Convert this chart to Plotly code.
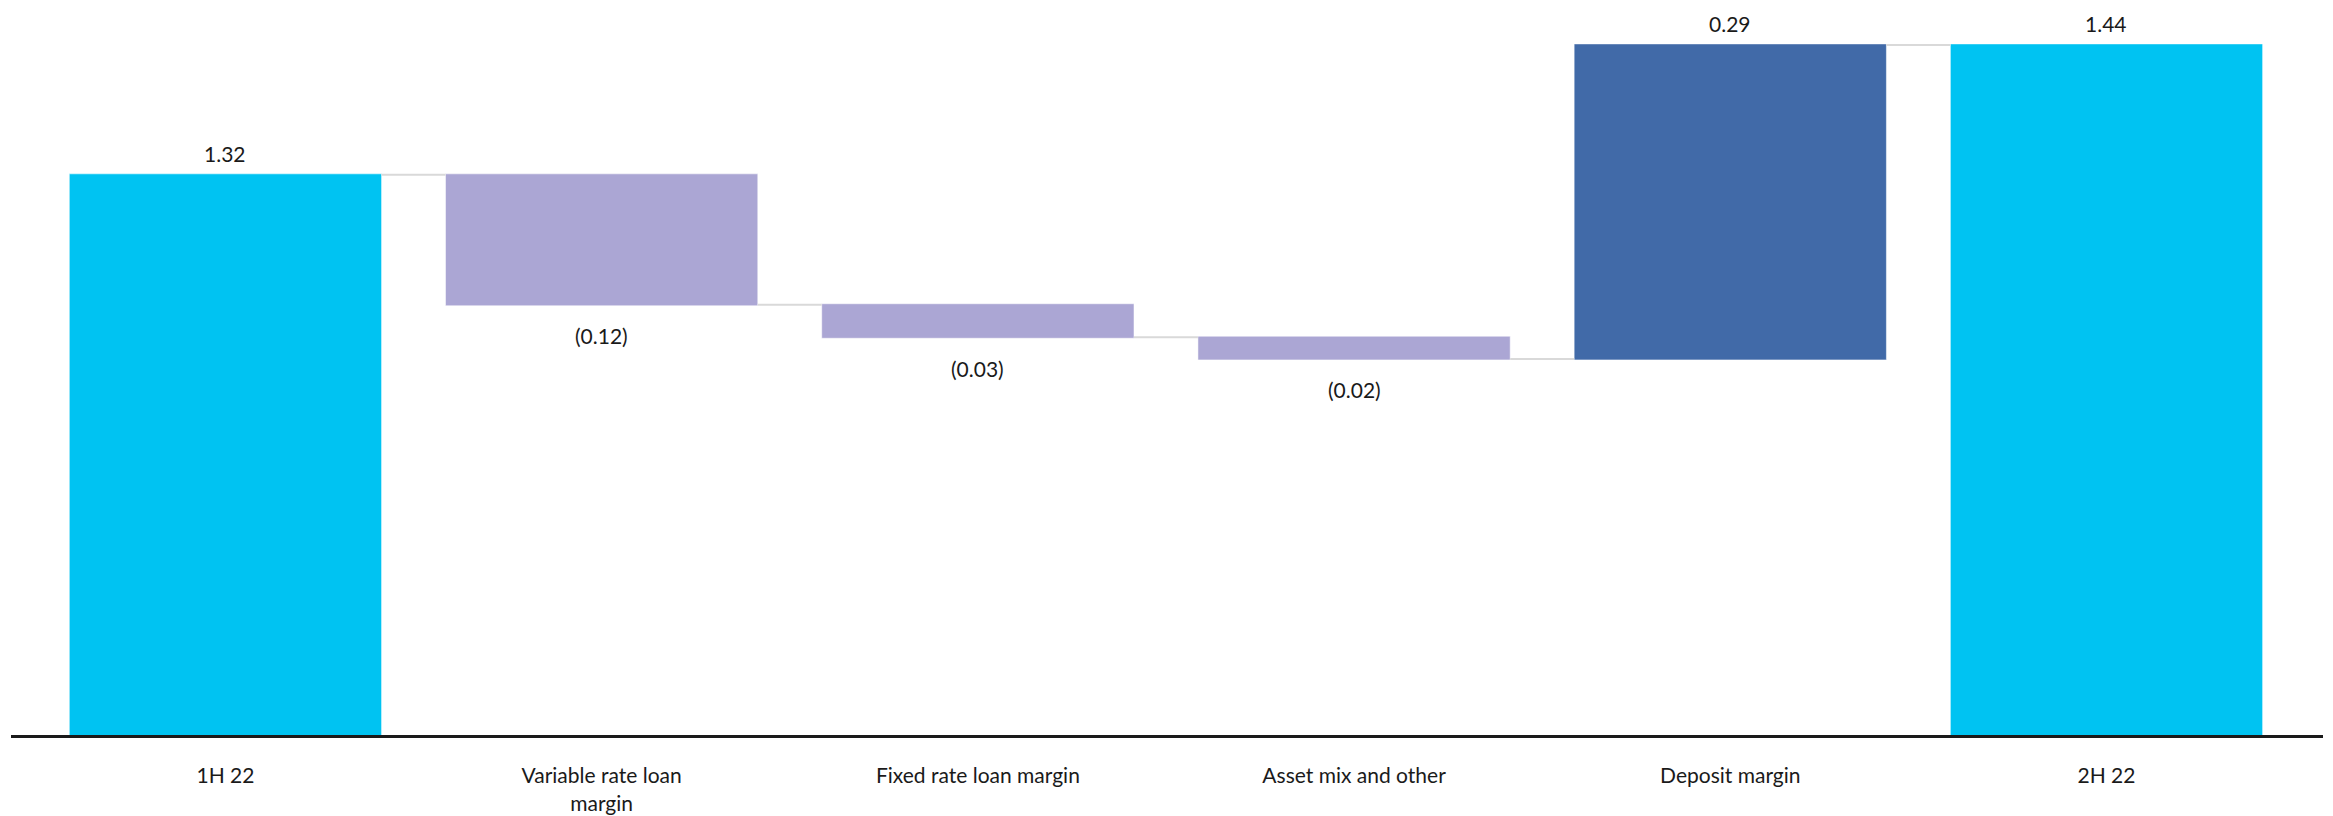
import plotly.graph_objects as go

categories = ["1H 22", "Variable rate loan<br>margin", "Fixed rate loan margin",
              "Asset mix and other", "Deposit margin", "2H 22"]
values = [1.32, -0.12, -0.03, -0.02, 0.29, 1.44]
measures = ["absolute", "relative", "relative", "relative", "relative", "total"]
labels = ["1.32", "(0.12)", "(0.03)", "(0.02)", "0.29", "1.44"]

FONT = "Lato"
TXT = "#1a1a1a"

fig = go.Figure()
fig.add_trace(go.Waterfall(
    x=categories,
    y=values,
    measure=measures,
    totals=dict(marker=dict(color="#00C3F2", line=dict(color="rgba(255,255,255,0.5)", width=1))),
    increasing=dict(marker=dict(color="#416AA8", line=dict(color="rgba(255,255,255,0.5)", width=1))),
    decreasing=dict(marker=dict(color="#ABA6D4", line=dict(color="rgba(255,255,255,0.5)", width=1))),
    connector=dict(mode="between", line=dict(color="#D9D9D9", width=2)),
    textinfo="none",
    hoverinfo="skip",
))

# value labels via annotations at the end of each bar
running = 0.0
for cat, v, m, lab in zip(categories, values, measures, labels):
    if m == "absolute":
        running = v
        end = v
        up = True
    elif m == "total":
        end = running
        up = True
    else:
        running += v
        end = running
        up = v >= 0
    fig.add_annotation(
        x=cat, y=end, text=lab, showarrow=False,
        yanchor="middle", yshift=21 if up else -31,
        font=dict(family=FONT, size=21, color=TXT),
    )

fig.update_layout(
    width=2333, height=816,
    margin=dict(l=11, r=10, t=0, b=81),
    paper_bgcolor="white", plot_bgcolor="white",
    waterfallgap=0.17,
    showlegend=False,
    font=dict(family=FONT, size=21, color=TXT),
    xaxis=dict(
        type="category",
        range=[-0.570, 5.5755],
        showline=True, linecolor="#1a1a1a", linewidth=3,
        ticks="outside", ticklen=20, tickcolor="rgba(0,0,0,0)",
        tickfont=dict(family=FONT, size=21, color=TXT),
        showgrid=False, zeroline=False,
    ),
    yaxis=dict(
        range=[0.8026, 1.4815],
        showticklabels=False, showgrid=False, zeroline=False, showline=False,
    ),
)

fig.write_html("out.html")
